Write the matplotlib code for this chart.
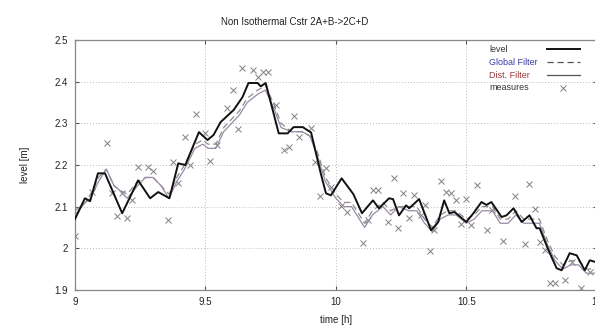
import matplotlib
matplotlib.use("Agg")
import matplotlib.pyplot as plt
from matplotlib.lines import Line2D

plt.rcParams['font.family'] = ['Liberation Sans', 'DejaVu Sans']

# level (true state)
level_t = [9.0, 9.038, 9.058, 9.088, 9.115, 9.181, 9.242, 9.288, 9.319, 9.362,
           9.396, 9.423, 9.475, 9.508, 9.531, 9.558, 9.608, 9.642, 9.665, 9.70,
           9.712, 9.731, 9.781, 9.815, 9.838, 9.873, 9.905, 9.942, 9.962, 9.981,
           10.022, 10.067, 10.10, 10.142, 10.165, 10.204, 10.219, 10.242, 10.269, 10.281,
           10.319, 10.338, 10.365, 10.392, 10.415, 10.435, 10.455, 10.5, 10.527, 10.558,
           10.577, 10.596, 10.635, 10.654, 10.681, 10.712, 10.742, 10.769, 10.781, 10.815,
           10.846, 10.865, 10.896, 10.923, 10.954, 10.973, 11.0]
level_y = [2.070, 2.120, 2.113, 2.180, 2.180, 2.084, 2.163, 2.120, 2.135, 2.120,
           2.204, 2.200, 2.279, 2.260, 2.272, 2.303, 2.332, 2.363, 2.397, 2.397,
           2.389, 2.397, 2.276, 2.276, 2.291, 2.291, 2.278, 2.180, 2.132, 2.127,
           2.168, 2.130, 2.084, 2.115, 2.096, 2.120, 2.118, 2.079, 2.103, 2.096,
           2.118, 2.087, 2.043, 2.063, 2.115, 2.084, 2.087, 2.063, 2.084, 2.111,
           2.104, 2.111, 2.075, 2.079, 2.096, 2.063, 2.079, 2.048, 2.048, 1.995,
           1.952, 1.947, 1.988, 1.983, 1.947, 1.971, 1.966]

# filter estimates
filt_t = [9.0, 9.04, 9.06, 9.09, 9.12, 9.15, 9.17, 9.2, 9.24, 9.27,
          9.3, 9.33, 9.36, 9.39, 9.42, 9.46, 9.49, 9.51, 9.54, 9.57,
          9.6, 9.63, 9.66, 9.7, 9.73, 9.76, 9.79, 9.83, 9.87, 9.9,
          9.93, 9.96, 10.0, 10.03, 10.06, 10.09, 10.11, 10.14, 10.18, 10.21,
          10.24, 10.28, 10.31, 10.34, 10.37, 10.4, 10.43, 10.46, 10.5, 10.53,
          10.56, 10.6, 10.63, 10.66, 10.69, 10.72, 10.75, 10.78, 10.81, 10.84,
          10.87, 10.9, 10.93, 10.96, 11.0]
global_y = [2.09, 2.11, 2.13, 2.17, 2.19, 2.15, 2.14, 2.13, 2.16, 2.17,
            2.17, 2.15, 2.13, 2.17, 2.20, 2.25, 2.26, 2.25, 2.25, 2.29,
            2.31, 2.33, 2.36, 2.38, 2.39, 2.35, 2.30, 2.28, 2.28, 2.27,
            2.23, 2.17, 2.13, 2.11, 2.11, 2.08, 2.06, 2.09, 2.11, 2.09,
            2.10, 2.10, 2.10, 2.07, 2.05, 2.08, 2.09, 2.09, 2.07, 2.08,
            2.10, 2.10, 2.07, 2.07, 2.09, 2.07, 2.07, 2.07, 2.02, 1.98,
            1.96, 1.97, 1.97, 1.95, 1.95]
dist_y = [2.08, 2.11, 2.12, 2.16, 2.19, 2.15, 2.14, 2.12, 2.15, 2.17,
          2.17, 2.15, 2.12, 2.16, 2.19, 2.24, 2.25, 2.24, 2.24, 2.28,
          2.30, 2.32, 2.35, 2.37, 2.38, 2.34, 2.29, 2.28, 2.28, 2.27,
          2.22, 2.16, 2.12, 2.10, 2.10, 2.07, 2.05, 2.08, 2.10, 2.08,
          2.10, 2.09, 2.09, 2.06, 2.04, 2.07, 2.08, 2.08, 2.06, 2.07,
          2.09, 2.09, 2.06, 2.06, 2.08, 2.06, 2.06, 2.06, 2.01, 1.97,
          1.95, 1.96, 1.96, 1.94, 1.94]

# noisy measurements
meas_t = [9.0, 9.065, 9.123, 9.142, 9.162, 9.181, 9.2, 9.219, 9.242, 9.281,
          9.3, 9.358, 9.377, 9.396, 9.423, 9.442, 9.462, 9.5, 9.519, 9.546,
          9.581, 9.604, 9.623, 9.642, 9.681, 9.7, 9.719, 9.738, 9.769, 9.8,
          9.819, 9.838, 9.858, 9.904, 9.919, 9.938, 9.962, 9.981, 10.019, 10.042,
          10.104, 10.123, 10.142, 10.162, 10.2, 10.223, 10.238, 10.258, 10.281, 10.3,
          10.327, 10.342, 10.362, 10.377, 10.404, 10.423, 10.442, 10.462, 10.481, 10.5,
          10.519, 10.542, 10.581, 10.6, 10.642, 10.685, 10.723, 10.742, 10.762, 10.781,
          10.8, 10.819, 10.838, 10.877, 10.904, 10.938, 10.973]
meas_y = [2.029, 2.135, 2.252, 2.132, 2.077, 2.132, 2.072, 2.115, 2.195, 2.195,
          2.185, 2.067, 2.207, 2.156, 2.267, 2.200, 2.322, 2.276, 2.209, 2.248,
          2.337, 2.380, 2.286, 2.433, 2.428, 2.411, 2.423, 2.423, 2.344, 2.236,
          2.243, 2.317, 2.267, 2.288, 2.207, 2.125, 2.192, 2.147, 2.101, 2.087,
          2.012, 2.067, 2.139, 2.139, 2.063, 2.168, 2.048, 2.132, 2.072, 2.127,
          2.079, 2.103, 1.993, 2.043, 2.161, 2.135, 2.132, 2.115, 2.058, 2.118,
          2.055, 2.151, 2.043, 2.091, 2.017, 2.125, 2.010, 2.154, 2.094, 2.014,
          1.995, 1.917, 1.917, 1.923, 1.966, 1.904, 1.942]

x_ticks = [9, 9.5, 10, 10.5, 11]
x_labels = ["9", "9.5", "10", "10.5", "11"]
y_ticks = [1.9, 2.0, 2.1, 2.2, 2.3, 2.4, 2.5]
y_labels = ["1.9", "2", "2.1", "2.2", "2.3", "2.4", "2.5"]

legend_names = ["level", "Global Filter", "Dist. Filter", "measures"]
legend_colors = ["#333333", "#3a3aa8", "#9a3a3a", "#333333"]

fig = plt.figure(figsize=(5.95, 3.29), dpi=100)
ax = fig.add_axes([0.126, 0.119, 0.877, 0.759])

ax.plot(meas_t, meas_y, "x", color="#808080", ms=4, mew=0.7, zorder=2)
ax.plot(filt_t, global_y, "--", color="#8c8c8c", lw=0.9, dashes=(5, 3), zorder=3)
ax.plot(filt_t, dist_y, "-", color="#9a8aa6", lw=0.9, zorder=3)
ax.plot(level_t, level_y, "-", color="#111111", lw=1.4, zorder=4)

ax.set_xlim(9, 11)
ax.set_ylim(1.9, 2.5)
ax.set_xticks(x_ticks)
ax.set_xticklabels(x_labels)
ax.set_yticks(y_ticks)
ax.set_yticklabels(y_labels)
ax.tick_params(direction="in", length=3, labelsize=7, colors="#555555",
               labelcolor="#222222", top=True, right=True, pad=5)
ax.grid(True, linestyle=(0, (1, 2)), color="#bbbbbb", lw=0.7)
for s in ax.spines.values():
    s.set_color("#888888")
    s.set_linewidth(0.9)

ax.set_xlabel("time [h]", fontsize=7, color="#222222", labelpad=6)
ax.set_ylabel("level [m]", fontsize=7, color="#222222", labelpad=18)
fig.text(0.495, 0.925, "Non Isothermal Cstr 2A+B->2C+D", ha="center",
         fontsize=7, color="#222222")

# gnuplot style key: text left, sample right
row_y = [0.963, 0.911, 0.860, 0.810]
samples = [dict(color="#111111", lw=1.4, ls="-"),
           dict(color="#555555", lw=0.9, ls="--", dashes=(5, 3)),
           dict(color="#555555", lw=0.9, ls="-"),
           None]
for name, c, y, st in zip(legend_names, legend_colors, row_y, samples):
    ax.text(0.794, y, name, transform=ax.transAxes, fontsize=6.5, color=c,
            va="center", ha="left")
    if st is None:
        ax.plot([0.935], [y], "x", color="#808080", ms=4, mew=0.7,
                transform=ax.transAxes, clip_on=False)
    else:
        ax.add_line(Line2D([0.904, 0.967], [y, y], transform=ax.transAxes, **st))

fig.savefig("out.png", dpi=100)
